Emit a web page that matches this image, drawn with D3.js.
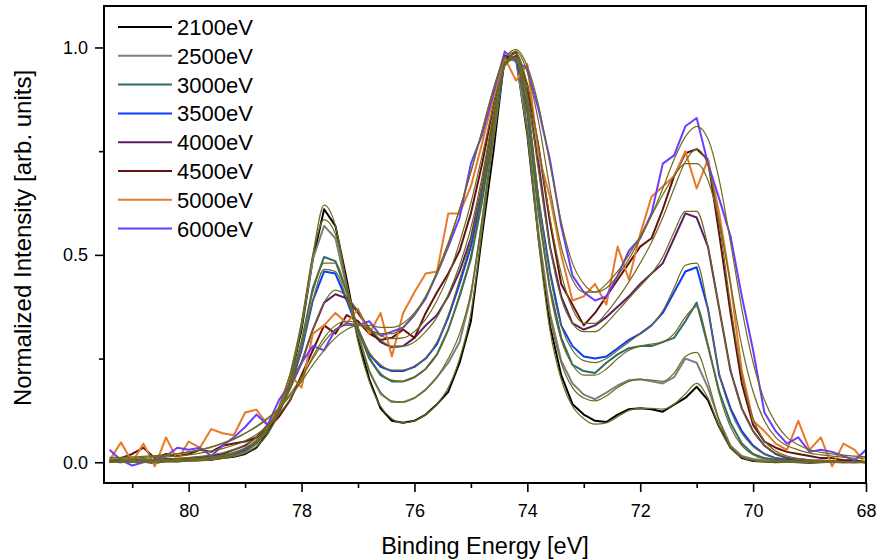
<!DOCTYPE html>
<html>
<head>
<meta charset="utf-8">
<script src="https://cdn.jsdelivr.net/npm/d3@7"></script>
<style>
  body { margin: 0; background: #fff; }
  text { font-family: "Liberation Sans", Arial, sans-serif; fill: #000; }
</style>
</head>
<body>
<script>
// binding energy grid [eV]
const energy = [
  81.4, 81.2, 81.0, 80.8, 80.6, 80.4, 80.2, 80.0, 79.8, 79.6,
  79.4, 79.2, 79.0, 78.8, 78.6, 78.4, 78.2, 78.0, 77.8, 77.6,
  77.4, 77.2, 77.0, 76.8, 76.6, 76.4, 76.2, 76.0, 75.8, 75.6,
  75.4, 75.2, 75.0, 74.8, 74.6, 74.4, 74.2, 74.0, 73.8, 73.6,
  73.4, 73.2, 73.0, 72.8, 72.6, 72.4, 72.2, 72.0, 71.8, 71.6,
  71.4, 71.2, 71.0, 70.8, 70.6, 70.4, 70.2, 70.0, 69.8, 69.6,
  69.4, 69.2, 69.0, 68.8, 68.6, 68.4, 68.2, 68.0
];

const labels = ['2100eV', '2500eV', '3000eV', '3500eV', '4000eV', '4500eV', '5000eV', '6000eV'];
const colors = ['#000000', '#7f7f7f', '#2f6b6b', '#0a3cff', '#5a1f62', '#650f0f', '#e8782a', '#6a3cff'];

// measured spectra
const spec2100 = [
  0.002, 0.0, 0.003, 0.001, -0.002, 0.003, 0.002, 0.004, 0.005, 0.006,
  0.01, 0.013, 0.02, 0.035, 0.07, 0.12, 0.20, 0.32, 0.49, 0.61,
  0.57, 0.44, 0.30, 0.20, 0.13, 0.10, 0.095, 0.10, 0.115, 0.14,
  0.17, 0.24, 0.34, 0.55, 0.75, 0.98, 0.975, 0.79, 0.54, 0.33,
  0.21, 0.14, 0.115, 0.10, 0.097, 0.115, 0.128, 0.13, 0.128, 0.122,
  0.139, 0.155, 0.182, 0.15, 0.085, 0.035, 0.01, 0.003, 0.002, 0.0,
  0.001, 0.0, -0.001, 0.0, 0.001, 0.0, 0.0, 0.001
];
const spec2500 = [
  0.003, 0.001, 0.004, 0.002, 0.0, 0.004, 0.003, 0.005, 0.006, 0.008,
  0.012, 0.016, 0.025, 0.045, 0.08, 0.13, 0.21, 0.33, 0.49, 0.57,
  0.54, 0.42, 0.31, 0.22, 0.165, 0.145, 0.145, 0.155, 0.175, 0.205,
  0.24, 0.29, 0.40, 0.58, 0.78, 0.975, 0.97, 0.80, 0.55, 0.36,
  0.245, 0.19, 0.163, 0.152, 0.168, 0.185, 0.198, 0.20, 0.195, 0.19,
  0.205, 0.25, 0.24, 0.18, 0.10, 0.04, 0.015, 0.008, 0.005, 0.003,
  0.002, 0.001, 0.0, 0.001, 0.0, 0.0, 0.001, 0.0
];
const spec3000 = [
  0.002, 0.003, 0.001, 0.004, 0.005, 0.005, 0.006, 0.007, 0.009, 0.011,
  0.015, 0.02, 0.03, 0.045, 0.075, 0.12, 0.19, 0.29, 0.42, 0.495,
  0.485, 0.41, 0.32, 0.25, 0.21, 0.195, 0.195, 0.205, 0.225, 0.26,
  0.32, 0.40, 0.49, 0.63, 0.80, 0.97, 0.975, 0.84, 0.60, 0.42,
  0.30, 0.235, 0.22, 0.215, 0.24, 0.26, 0.275, 0.28, 0.28, 0.29,
  0.30, 0.34, 0.385, 0.28, 0.17, 0.095, 0.045, 0.02, 0.01, 0.006,
  0.004, 0.003, 0.002, 0.002, 0.001, 0.001, 0.0, 0.0
];
const spec3500 = [
  0.003, 0.002, 0.005, 0.003, 0.004, 0.006, 0.006, 0.008, 0.01, 0.012,
  0.016, 0.022, 0.03, 0.05, 0.08, 0.12, 0.18, 0.27, 0.39, 0.46,
  0.455, 0.39, 0.32, 0.26, 0.23, 0.22, 0.22, 0.23, 0.25, 0.285,
  0.35, 0.43, 0.52, 0.65, 0.81, 0.97, 0.975, 0.86, 0.63, 0.46,
  0.33, 0.28, 0.255, 0.25, 0.255, 0.275, 0.295, 0.31, 0.33, 0.36,
  0.41, 0.46, 0.47, 0.37, 0.21, 0.13, 0.075, 0.04, 0.02, 0.01,
  0.006, 0.004, 0.003, 0.002, 0.002, 0.001, 0.001, 0.0
];
const spec4000 = [
  0.004, 0.002, 0.006, 0.004, 0.005, 0.008, 0.008, 0.01, 0.012, 0.015,
  0.02, 0.03, 0.04, 0.06, 0.09, 0.125, 0.18, 0.24, 0.32, 0.385,
  0.405, 0.395, 0.36, 0.32, 0.29, 0.277, 0.28, 0.30, 0.33, 0.355,
  0.40, 0.46, 0.54, 0.67, 0.83, 0.965, 0.98, 0.89, 0.72, 0.52,
  0.40, 0.335, 0.32, 0.33, 0.35, 0.375, 0.40, 0.43, 0.455, 0.48,
  0.54, 0.60, 0.59, 0.52, 0.37, 0.22, 0.13, 0.075, 0.04, 0.02,
  0.01, 0.008, 0.005, 0.004, 0.003, 0.002, 0.002, 0.001
];
const spec4500 = [
  0.0, 0.01, 0.02, 0.035, 0.01, 0.02, 0.015, 0.02, 0.03, 0.025,
  0.04, 0.045, 0.05, 0.06, 0.08, 0.11, 0.15, 0.21, 0.27, 0.33,
  0.31, 0.355, 0.34, 0.31, 0.295, 0.30, 0.32, 0.30, 0.36, 0.41,
  0.455, 0.51, 0.60, 0.72, 0.86, 0.97, 0.99, 0.91, 0.76, 0.58,
  0.43, 0.38, 0.33, 0.36, 0.40, 0.44, 0.48, 0.52, 0.54, 0.61,
  0.69, 0.745, 0.755, 0.73, 0.55, 0.36, 0.19, 0.09, 0.05, 0.035,
  0.025, 0.02, 0.015, 0.01, 0.01, 0.005, 0.005, 0.0
];
const spec5000 = [
  0.005, 0.048, 0.0, 0.045, -0.01, 0.06, 0.005, 0.05, 0.035, 0.08,
  0.07, 0.065, 0.12, 0.127, 0.09, 0.13, 0.21, 0.18, 0.31, 0.33,
  0.36, 0.335, 0.37, 0.31, 0.36, 0.255, 0.36, 0.41, 0.455, 0.46,
  0.60, 0.60, 0.665, 0.77, 0.88, 0.975, 0.92, 0.96, 0.74, 0.64,
  0.50, 0.39, 0.40, 0.43, 0.38, 0.52, 0.44, 0.55, 0.64, 0.665,
  0.69, 0.75, 0.66, 0.73, 0.60, 0.43, 0.22, 0.10, 0.075, 0.045,
  0.03, 0.10, 0.03, 0.06, -0.01, 0.045, 0.03, -0.005
];
const spec6000 = [
  0.03, 0.005, -0.008, 0.0, 0.005, 0.015, 0.035, 0.03, 0.035, 0.015,
  0.04, 0.06, 0.085, 0.115, 0.09, 0.15, 0.19, 0.24, 0.28, 0.27,
  0.32, 0.335, 0.33, 0.34, 0.305, 0.315, 0.325, 0.355, 0.395, 0.455,
  0.52, 0.59, 0.72, 0.79, 0.89, 0.99, 0.965, 0.95, 0.85, 0.73,
  0.57, 0.45, 0.41, 0.39, 0.40, 0.45, 0.51, 0.54, 0.60, 0.72,
  0.74, 0.81, 0.83, 0.72, 0.635, 0.545, 0.40, 0.27, 0.12, 0.075,
  0.045, 0.06, 0.025, 0.03, 0.025, 0.015, 0.005, 0.03
];

// fitted envelopes
const fit2100 = [
  0.0, 0.0, 0.0, 0.0, 0.001, 0.001, 0.002, 0.003, 0.004, 0.006,
  0.009, 0.014, 0.022, 0.038, 0.068, 0.12, 0.20, 0.33, 0.50, 0.62,
  0.57, 0.43, 0.29, 0.195, 0.135, 0.105, 0.095, 0.10, 0.115, 0.14,
  0.18, 0.25, 0.36, 0.56, 0.78, 0.96, 0.975, 0.80, 0.53, 0.32,
  0.20, 0.135, 0.105, 0.092, 0.095, 0.11, 0.125, 0.13, 0.13, 0.128,
  0.14, 0.165, 0.19, 0.155, 0.085, 0.035, 0.012, 0.004, 0.001, 0.0,
  0.0, 0.0, 0.0, 0.0, 0.0, 0.0, 0.0, 0.0
];
const fit2500 = [
  0.0, 0.0, 0.001, 0.001, 0.001, 0.002, 0.003, 0.004, 0.005, 0.007,
  0.011, 0.017, 0.027, 0.046, 0.08, 0.135, 0.215, 0.34, 0.50, 0.585,
  0.55, 0.43, 0.31, 0.22, 0.17, 0.148, 0.145, 0.155, 0.175, 0.205,
  0.25, 0.31, 0.41, 0.59, 0.79, 0.965, 0.97, 0.80, 0.55, 0.355,
  0.24, 0.18, 0.155, 0.148, 0.16, 0.18, 0.195, 0.20, 0.198, 0.195,
  0.215, 0.255, 0.265, 0.195, 0.10, 0.04, 0.014, 0.005, 0.002, 0.001,
  0.0, 0.0, 0.0, 0.0, 0.0, 0.0, 0.0, 0.0
];
const fit3000 = [
  0.001, 0.001, 0.002, 0.002, 0.003, 0.004, 0.005, 0.006, 0.008, 0.011,
  0.015, 0.022, 0.033, 0.05, 0.08, 0.125, 0.195, 0.29, 0.41, 0.48,
  0.48, 0.41, 0.325, 0.255, 0.215, 0.198, 0.195, 0.205, 0.225, 0.26,
  0.32, 0.405, 0.50, 0.645, 0.81, 0.955, 0.975, 0.85, 0.61, 0.415,
  0.295, 0.235, 0.21, 0.21, 0.225, 0.25, 0.27, 0.28, 0.285, 0.29,
  0.31, 0.35, 0.375, 0.285, 0.165, 0.085, 0.04, 0.018, 0.008, 0.004,
  0.002, 0.001, 0.001, 0.0, 0.0, 0.0, 0.0, 0.0
];
const fit3500 = [
  0.002, 0.002, 0.003, 0.003, 0.004, 0.005, 0.006, 0.008, 0.01, 0.013,
  0.017, 0.024, 0.035, 0.053, 0.083, 0.125, 0.185, 0.275, 0.39, 0.465,
  0.46, 0.395, 0.325, 0.265, 0.235, 0.222, 0.222, 0.232, 0.252, 0.29,
  0.355, 0.44, 0.535, 0.67, 0.82, 0.955, 0.975, 0.87, 0.64, 0.455,
  0.33, 0.27, 0.245, 0.24, 0.25, 0.27, 0.29, 0.31, 0.33, 0.365,
  0.42, 0.475, 0.48, 0.37, 0.215, 0.125, 0.07, 0.038, 0.02, 0.01,
  0.005, 0.003, 0.002, 0.001, 0.001, 0.0, 0.0, 0.0
];
const fit4000 = [
  0.003, 0.003, 0.004, 0.005, 0.006, 0.007, 0.009, 0.011, 0.014, 0.018,
  0.023, 0.031, 0.042, 0.06, 0.088, 0.125, 0.178, 0.243, 0.32, 0.385,
  0.415, 0.40, 0.365, 0.325, 0.295, 0.28, 0.28, 0.29, 0.315, 0.35,
  0.405, 0.475, 0.565, 0.69, 0.84, 0.96, 0.98, 0.885, 0.70, 0.52,
  0.395, 0.335, 0.315, 0.315, 0.335, 0.365, 0.395, 0.425, 0.455, 0.495,
  0.555, 0.605, 0.605, 0.52, 0.37, 0.225, 0.13, 0.075, 0.04, 0.022,
  0.012, 0.007, 0.004, 0.003, 0.002, 0.001, 0.001, 0.0
];
const fit4500 = [
  0.006, 0.007, 0.008, 0.009, 0.011, 0.013, 0.015, 0.018, 0.022, 0.027,
  0.033, 0.041, 0.052, 0.067, 0.088, 0.116, 0.153, 0.20, 0.255, 0.30,
  0.33, 0.34, 0.335, 0.32, 0.305, 0.298, 0.30, 0.315, 0.345, 0.39,
  0.45, 0.53, 0.625, 0.74, 0.86, 0.96, 0.985, 0.91, 0.76, 0.59,
  0.455, 0.37, 0.335, 0.335, 0.36, 0.395, 0.435, 0.48, 0.53, 0.59,
  0.66, 0.725, 0.755, 0.715, 0.575, 0.38, 0.21, 0.105, 0.052, 0.027,
  0.015, 0.009, 0.006, 0.004, 0.003, 0.002, 0.001, 0.001
];
const fit5000 = [
  0.01, 0.01, 0.01, 0.012, 0.014, 0.016, 0.02, 0.025, 0.03, 0.036,
  0.045, 0.055, 0.07, 0.085, 0.105, 0.13, 0.165, 0.205, 0.25, 0.29,
  0.32, 0.33, 0.33, 0.32, 0.31, 0.31, 0.325, 0.355, 0.40, 0.46,
  0.53, 0.61, 0.70, 0.80, 0.90, 0.975, 0.99, 0.94, 0.82, 0.66,
  0.52, 0.44, 0.41, 0.41, 0.43, 0.46, 0.50, 0.545, 0.595, 0.645,
  0.69, 0.72, 0.72, 0.68, 0.58, 0.43, 0.28, 0.17, 0.10, 0.06,
  0.04, 0.03, 0.022, 0.018, 0.015, 0.012, 0.01, 0.01
];
const fit6000 = [
  0.012, 0.012, 0.013, 0.014, 0.016, 0.018, 0.021, 0.025, 0.03, 0.037,
  0.046, 0.057, 0.07, 0.087, 0.107, 0.13, 0.16, 0.195, 0.235, 0.27,
  0.30, 0.32, 0.33, 0.33, 0.325, 0.325, 0.335, 0.36, 0.40, 0.455,
  0.525, 0.61, 0.70, 0.80, 0.90, 0.975, 0.995, 0.955, 0.86, 0.72,
  0.58, 0.48, 0.43, 0.41, 0.42, 0.45, 0.49, 0.54, 0.595, 0.66,
  0.73, 0.785, 0.81, 0.78, 0.68, 0.53, 0.37, 0.24, 0.15, 0.095,
  0.06, 0.042, 0.03, 0.024, 0.02, 0.017, 0.015, 0.013
];

const spectra = [spec2100, spec2500, spec3000, spec3500, spec4000, spec4500, spec5000, spec6000];
const fits = [fit2100, fit2500, fit3000, fit3500, fit4000, fit4500, fit5000, fit6000];

const xMajor = [80, 78, 76, 74, 72, 70, 68];
const xMinor = [81, 79, 77, 75, 73, 71, 69];
const yMajor = [0.0, 0.5, 1.0];
const yMinor = [0.25, 0.75];

const width = 876, height = 560;
const margin = {top: 6, right: 10, bottom: 77, left: 104};
const fitColor = '#6e6b1f';

const svg = d3.select('body').append('svg')
    .attr('width', width)
    .attr('height', height);

const x = d3.scaleLinear().domain([81.5, 68]).range([margin.left, width - margin.right]);
const y = d3.scaleLinear().domain([-0.05, 1.1]).range([height - margin.bottom, margin.top]);

svg.append('clipPath').attr('id', 'clip')
  .append('rect')
    .attr('x', margin.left).attr('y', margin.top)
    .attr('width', x.range()[1] - margin.left)
    .attr('height', y.range()[0] - margin.top);

const plot = svg.append('g').attr('clip-path', 'url(#clip)');

const dataLine = d3.line()
    .x((d, i) => x(energy[i]))
    .y(d => y(d));

const fitLine = d3.line()
    .x((d, i) => x(energy[i]))
    .y(d => y(d))
    .curve(d3.curveMonotoneX);

plot.selectAll('.spec')
  .data(spectra)
  .enter().append('path')
    .attr('class', 'spec')
    .attr('fill', 'none')
    .attr('stroke', (d, i) => colors[i])
    .attr('stroke-width', 2)
    .attr('stroke-linejoin', 'round')
    .attr('d', dataLine);

plot.selectAll('.fit')
  .data(fits)
  .enter().append('path')
    .attr('class', 'fit')
    .attr('fill', 'none')
    .attr('stroke', fitColor)
    .attr('stroke-width', 1.2)
    .attr('d', fitLine);

// axes
const bottom = y.range()[0];
const xAxis = svg.append('g')
    .attr('transform', `translate(0,${bottom})`)
    .call(d3.axisBottom(x).tickValues(xMajor).tickSize(9).tickPadding(12).tickFormat(d3.format('d')));
xAxis.append('g').call(d3.axisBottom(x).tickValues(xMinor).tickSize(5).tickFormat(''));

const yAxis = svg.append('g')
    .attr('transform', `translate(${margin.left},0)`)
    .call(d3.axisLeft(y).tickValues(yMajor).tickSize(9).tickPadding(7).tickFormat(d3.format('.1f')));
yAxis.append('g').call(d3.axisLeft(y).tickValues(yMinor).tickSize(5).tickFormat(''));

svg.selectAll('.domain').remove();
svg.selectAll('.tick line').attr('stroke', '#000').attr('stroke-width', 1.6);
svg.selectAll('.tick text')
    .attr('font-size', 18)
    .attr('font-family', '"Liberation Sans", Arial, sans-serif')
    .attr('fill', '#000');

// frame
svg.append('rect')
    .attr('x', margin.left).attr('y', margin.top)
    .attr('width', x.range()[1] - margin.left)
    .attr('height', bottom - margin.top)
    .attr('fill', 'none')
    .attr('stroke', '#000')
    .attr('stroke-width', 2);

// titles
svg.append('text')
    .attr('x', 485)
    .attr('y', 554)
    .attr('text-anchor', 'middle')
    .attr('font-size', 23.5)
    .text('Binding Energy [eV]');

svg.append('text')
    .attr('transform', `translate(31,238) rotate(-90)`)
    .attr('text-anchor', 'middle')
    .attr('font-size', 24)
    .text('Normalized Intensity [arb. units]');

// legend
const legend = svg.append('g').attr('transform', 'translate(118,27)');
const item = legend.selectAll('.item')
  .data(labels)
  .enter().append('g')
    .attr('class', 'item')
    .attr('transform', (d, i) => `translate(0,${i * 28.8})`);
item.append('line')
    .attr('x1', 0).attr('x2', 54)
    .attr('stroke', (d, i) => colors[i])
    .attr('stroke-width', 2);
item.append('text')
    .attr('x', 59)
    .attr('dy', '0.36em')
    .attr('font-size', 22)
    .text(d => d);
</script>
</body>
</html>
